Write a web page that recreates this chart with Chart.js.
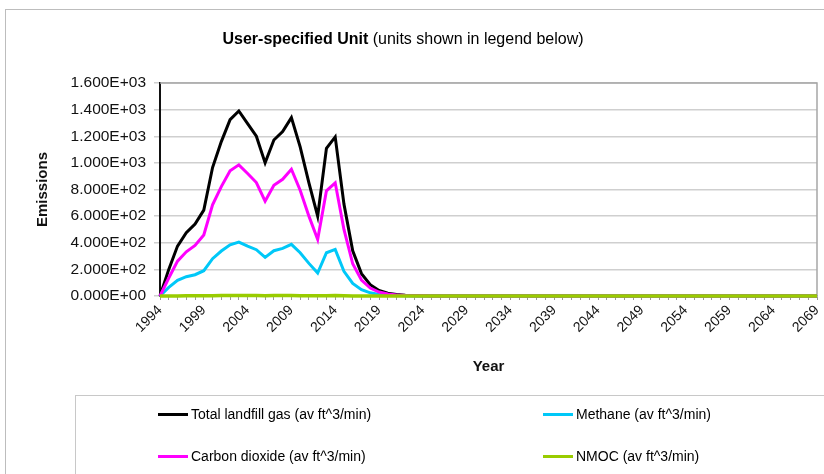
<!DOCTYPE html>
<html>
<head>
<meta charset="utf-8">
<script src="https://cdn.jsdelivr.net/npm/chart.js@4.4.1/dist/chart.umd.min.js"></script>
<style>
  html, body { margin: 0; padding: 0; background: #ffffff; }
  body { width: 824px; height: 474px; position: relative; overflow: hidden; font-family: "Liberation Sans", Arial, sans-serif; }
  #frame { position: absolute; left: 5px; top: 9px; width: 840px; height: 490px; border: 1px solid #bdbdbd; box-sizing: border-box; }
  #wrap { position: absolute; left: 0; top: 0; width: 824px; height: 474px; }
  #title { position: absolute; left: 0; top: 30px; width: 806px; text-align: center; font-size: 16px; color: #000; }
  #title b { font-weight: bold; }
  #legend { position: absolute; left: 75px; top: 395px; width: 780px; height: 110px; border: 1px solid #c8c8c8; box-sizing: border-box; }
  .item { position: absolute; font-size: 14px; color: #000; white-space: nowrap; line-height: 16px; }
  .item .sw { position: absolute; top: 7px; height: 3px; width: 30px; }
</style>
</head>
<body>
<div id="frame"></div>
<div id="wrap"><canvas id="c" width="824" height="474"></canvas></div>
<div id="title"><b>User-specified Unit</b> (units shown in legend below)</div>
<div id="legend"></div>
<script>
// ---- data ----
const years = [
  1994,1995,1996,1997,1998,1999,2000,2001,2002,2003,
  2004,2005,2006,2007,2008,2009,2010,2011,2012,2013,
  2014,2015,2016,2017,2018,2019,2020,2021,2022,2023,
  2024,2025,2026,2027,2028,2029,2030,2031,2032,2033,
  2034,2035,2036,2037,2038,2039,2040,2041,2042,2043,
  2044,2045,2046,2047,2048,2049,2050,2051,2052,2053,
  2054,2055,2056,2057,2058,2059,2060,2061,2062,2063,
  2064,2065,2066,2067,2068,2069
];
const totalGas = [
  0, 200, 375, 475, 540, 645, 965, 1160, 1325, 1390,
  1295, 1200, 1000, 1172, 1235, 1340, 1120, 850, 600, 1110,
  1195, 690, 340, 168, 85, 42, 21, 11, 5, 3,
  1.5, 0.8, 0.4, 0.2, 0.1, 0.05, 0, 0, 0, 0,
  0, 0, 0, 0, 0, 0, 0, 0, 0, 0,
  0, 0, 0, 0, 0, 0, 0, 0, 0, 0,
  0, 0, 0, 0, 0, 0, 0, 0, 0, 0,
  0, 0, 0, 0, 0, 0
];
const methane = [
  0, 65, 117, 145, 160, 190, 280, 338, 385, 405,
  375, 348, 290, 340, 358, 388, 325, 245, 172, 325,
  350, 185, 95, 48, 24, 12, 6, 3, 1.5, 0.8,
  0.4, 0.2, 0.1, 0.05, 0.03, 0.01, 0, 0, 0, 0,
  0, 0, 0, 0, 0, 0, 0, 0, 0, 0,
  0, 0, 0, 0, 0, 0, 0, 0, 0, 0,
  0, 0, 0, 0, 0, 0, 0, 0, 0, 0,
  0, 0, 0, 0, 0, 0
];
const carbonDioxide = [
  0, 135, 262, 332, 380, 458, 685, 822, 940, 985,
  920, 852, 712, 832, 877, 952, 795, 600, 425, 790,
  850, 500, 242, 120, 60, 30, 15, 8, 4, 2,
  1, 0.5, 0.3, 0.15, 0.07, 0.03, 0, 0, 0, 0,
  0, 0, 0, 0, 0, 0, 0, 0, 0, 0,
  0, 0, 0, 0, 0, 0, 0, 0, 0, 0,
  0, 0, 0, 0, 0, 0, 0, 0, 0, 0,
  0, 0, 0, 0, 0, 0
];
const nmoc = [
  0, 0.5, 0.9, 1.2, 1.3, 1.6, 2.4, 2.9, 3.3, 3.5,
  3.2, 3.0, 2.5, 2.9, 3.1, 3.4, 2.8, 2.1, 1.5, 2.8,
  3.0, 1.7, 0.85, 0.42, 0.21, 0.1, 0.05, 0.03, 0.01, 0,
  0, 0, 0, 0, 0, 0, 0, 0, 0, 0,
  0, 0, 0, 0, 0, 0, 0, 0, 0, 0,
  0, 0, 0, 0, 0, 0, 0, 0, 0, 0,
  0, 0, 0, 0, 0, 0, 0, 0, 0, 0,
  0, 0, 0, 0, 0, 0
];
const seriesNames = [
  "Total landfill gas (av ft^3/min)",
  "Methane (av ft^3/min)",
  "Carbon dioxide (av ft^3/min)",
  "NMOC (av ft^3/min)"
];
const seriesColors = ["#000000", "#00c8f8", "#ff00ff", "#99cc00"];
const yTicks = [0, 200, 400, 600, 800, 1000, 1200, 1400, 1600];
const xLabelEvery = 5;

function sci(v) {
  const s = Number(v).toExponential(3).split('e');
  const exp = parseInt(s[1], 10);
  const sign = exp < 0 ? '-' : '+';
  const e = String(Math.abs(exp)).padStart(2, '0');
  return s[0] + 'E' + sign + e;
}

const FONT = '"Liberation Sans", Arial, sans-serif';
const seriesData = [totalGas, methane, carbonDioxide, nmoc];

const plotFrame = {
  id: 'plotFrame',
  beforeDatasetsDraw(chart) {
    const a = chart.chartArea, ctx = chart.ctx;
    ctx.save();
    ctx.strokeStyle = '#a6a6a6';
    ctx.lineWidth = 1.5;
    ctx.beginPath();
    ctx.moveTo(a.left, a.top);
    ctx.lineTo(a.right, a.top);
    ctx.lineTo(a.right, a.bottom);
    ctx.stroke();
    ctx.restore();
  }
};

new Chart(document.getElementById('c'), {
  type: 'line',
  data: {
    labels: years,
    datasets: seriesData.map((d, i) => ({
      label: seriesNames[i],
      data: d,
      borderColor: seriesColors[i],
      backgroundColor: seriesColors[i],
      borderWidth: i === 3 ? 3.5 : 3,
      pointRadius: 0,
      tension: 0,
      fill: false,
      clip: false,
      order: 3 - i
    }))
  },
  options: {
    responsive: false,
    devicePixelRatio: 1,
    animation: false,
    layout: { padding: { left: 30, right: 7, top: 83, bottom: 94 } },
    plugins: { legend: { display: false }, tooltip: { enabled: false }, title: { display: false } },
    scales: {
      x: {
        type: 'category',
        offset: false,
        afterFit(s) { s.height = 84; s.paddingLeft = 0; s.paddingRight = 0; },
        grid: { display: true, drawOnChartArea: false, drawTicks: true, tickLength: 4, color: '#9a9a9a', lineWidth: 1 },
        border: { display: true, color: '#9a9a9a', width: 1.5 },
        ticks: {
          autoSkip: false, minRotation: 45, maxRotation: 45, padding: 2,
          color: '#111', font: { family: FONT, size: 14 },
          callback(val, idx) { return (idx % xLabelEvery === 0) ? String(years[idx]) : ''; }
        },
        title: { display: true, text: 'Year', color: '#111', font: { family: FONT, size: 15, weight: 'bold' }, padding: { top: 4, bottom: 4 } }
      },
      y: {
        min: 0, max: 1600,
        afterFit(s) { s.width = 130; s.paddingTop = 0; s.paddingBottom = 0; },
        afterBuildTicks(s) { s.ticks = yTicks.map(v => ({ value: v })); },
        grid: { color: '#cfcfcf', lineWidth: 1.5, tickLength: 6, drawTicks: true },
        border: { display: true, color: '#111', width: 2 },
        ticks: {
          padding: 8, color: '#111', font: { family: FONT, size: 15.5 },
          callback(v) { return sci(v); }
        },
        title: { display: true, text: 'Emissions', color: '#111', font: { family: FONT, size: 15, weight: 'bold' }, padding: { top: 4, bottom: 4 } }
      }
    }
  },
  plugins: [plotFrame]
});

// legend (two columns, row-major order)
const legendPos = [
  { x: 115, y: 10 }, { x: 500, y: 10 },
  { x: 115, y: 52 }, { x: 500, y: 52 }
];
const lg = document.getElementById('legend');
seriesNames.forEach((name, i) => {
  const it = document.createElement('div');
  it.className = 'item';
  it.style.left = legendPos[i].x + 'px';
  it.style.top = legendPos[i].y + 'px';
  const sw = document.createElement('span');
  sw.className = 'sw';
  sw.style.left = '-33px';
  sw.style.background = seriesColors[i];
  it.appendChild(sw);
  it.appendChild(document.createTextNode(name));
  lg.appendChild(it);
});
</script>
</body>
</html>
